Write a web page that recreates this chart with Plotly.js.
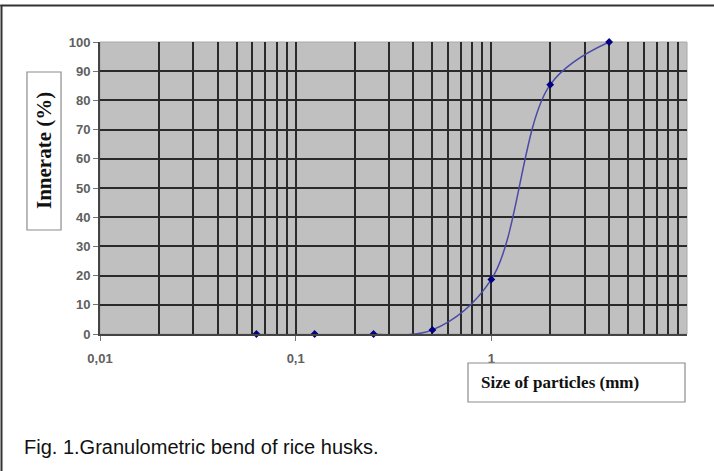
<!DOCTYPE html>
<html>
<head>
<meta charset="utf-8">
<script src="https://cdn.plot.ly/plotly-3.0.1.min.js"></script>
<style>html,body{margin:0;padding:0;background:#fff;}#chart{width:714px;height:471px;}</style>
</head>
<body>
<div id="chart"></div>
<script>
// Data
const sizeMm = [0.063, 0.125, 0.25, 0.5, 1, 2, 4];
const passingPct = [0, 0, 0, 1.4, 18.7, 85.4, 100];
const curveSize = [0.25, 0.5, 1, 2, 4];
const curvePct = [0, 1.4, 18.7, 85.4, 100];
const xTickVals = [0.01, 0.1, 1];
const xTickText = ["0,01", "0,1", "1"];
const xMinorVals = [];
[0.01, 0.1, 1].forEach(d => { for (let k = 2; k <= 9; k++) xMinorVals.push(+(d * k).toPrecision(3)); });

const yTitle = "Innerate (%)";
const xTitle = "Size of particles (mm)";
const caption = "Fig. 1.Granulometric bend of rice husks.";

const traces = [
  {x: curveSize, y: curvePct, type: 'scatter', mode: 'lines',
   line: {color: '#4a4aa8', width: 1.5, shape: 'spline', smoothing: 1}, hoverinfo: 'skip'},
  {x: sizeMm, y: passingPct, type: 'scatter', mode: 'markers', cliponaxis: false,
   marker: {symbol: 'diamond', size: 6, color: '#000080'}}
];

const layout = {
  width: 714, height: 471,
  margin: {l: 100, r: 27, t: 42, b: 137},
  paper_bgcolor: '#ffffff', plot_bgcolor: '#c0c0c0',
  showlegend: false,
  separators: ',.',
  xaxis: {
    type: 'log', range: [-2, 1],
    tickmode: 'array', tickvals: xTickVals, ticktext: xTickText,
    ticks: 'outside', ticklen: 5, tickcolor: '#777', tickwidth: 1,
    ticklabelstandoff: 6,
    showgrid: true, gridcolor: '#2a2a2a', gridwidth: 2,
    minor: {tickvals: xMinorVals, showgrid: true, gridcolor: '#2a2a2a', gridwidth: 2, ticks: ''},
    showline: true, linecolor: '#444', linewidth: 2,
    zeroline: false,
    tickfont: {family: 'Arial, Liberation Sans', size: 13, color: '#606060', weight: 'bold'}
  },
  yaxis: {
    range: [0, 100], dtick: 10, tick0: 0,
    ticks: 'outside', ticklen: 5, tickcolor: '#777', tickwidth: 1,
    showgrid: true, gridcolor: '#2a2a2a', gridwidth: 2,
    showline: true, linecolor: '#444', linewidth: 2,
    zeroline: false,
    tickfont: {family: 'Arial, Liberation Sans', size: 13, color: '#606060', weight: 'bold'}
  },
  shapes: [
    {type: 'rect', xref: 'paper', yref: 'paper', x0: 0, x1: 1, y0: 0, y1: 1,
     line: {color: '#a8a8a8', width: 1}, layer: 'below'},
    {type: 'rect', xref: 'paper', yref: 'paper', x0: -0.1244, x1: -0.0664, y0: 0.3562, y1: 0.8973,
     line: {color: '#8c8c8c', width: 1.2}, fillcolor: '#ffffff'},
    {type: 'rect', xref: 'paper', yref: 'paper', x0: 0.6269, x1: 0.9966, y0: -0.2329, y1: -0.0993,
     line: {color: '#8c8c8c', width: 1.2}, fillcolor: '#ffffff'},
    {type: 'line', xref: 'paper', yref: 'paper', x0: -0.17, x1: 1.05, y0: 1.125, y1: 1.125,
     line: {color: '#333', width: 2}},
    {type: 'line', xref: 'paper', yref: 'paper', x0: -0.1678, x1: -0.1678, y0: 1.125, y1: -0.48,
     line: {color: '#333', width: 2}}
  ],
  annotations: [
    {xref: 'paper', yref: 'paper', x: -0.0954, y: 0.6267, text: '<b>' + yTitle + '</b>',
     textangle: -90, showarrow: false, xanchor: 'center', yanchor: 'middle',
     font: {family: 'Times New Roman, Liberation Serif', size: 21, color: '#111'}},
    {xref: 'paper', yref: 'paper', x: 0.6457, y: -0.1678, text: '<b>' + xTitle + '</b>',
     showarrow: false, xanchor: 'left', yanchor: 'middle',
     font: {family: 'Times New Roman, Liberation Serif', size: 17, color: '#111'}},
    {xref: 'paper', yref: 'paper', x: -0.1329, y: -0.387, text: caption,
     showarrow: false, xanchor: 'left', yanchor: 'middle',
     font: {family: 'Arial, Liberation Sans', size: 20, color: '#111'}}
  ]
};

Plotly.newPlot('chart', traces, layout, {displayModeBar: false, staticPlot: true});
</script>
</body>
</html>
